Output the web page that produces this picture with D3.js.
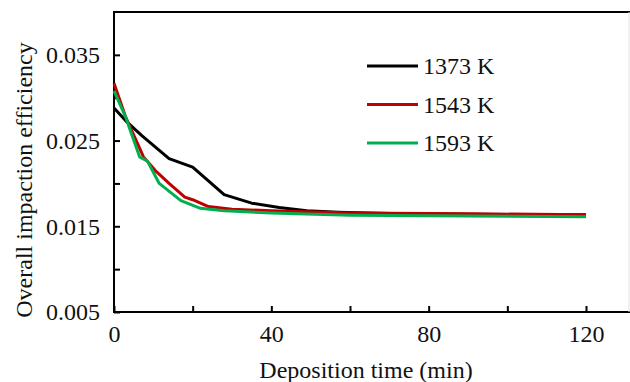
<!DOCTYPE html>
<html>
<head>
<meta charset="utf-8">
<script src="https://cdn.jsdelivr.net/npm/d3@7"></script>
<style>
	body { margin: 0; background: #fff; }
	svg text { font-family: "Liberation Serif", "Times New Roman", serif; fill: #111; }
</style>
</head>
<body>
<div id="chart"></div>
<script>
// data
const seriesNames = ["1373 K", "1543 K", "1593 K"];
const seriesColors = ["#000000", "#c00000", "#00b050"];

const time1373 = [0, 3, 7, 14, 20, 28, 35, 42, 49, 57, 70, 90, 120];
const eff1373 = [0.0288, 0.0273, 0.0256, 0.0229, 0.0219, 0.0187, 0.0177, 0.0172, 0.0168, 0.01665, 0.0165, 0.0164, 0.01635];

const time1543 = [0, 3, 7.5, 10.5, 14, 18, 20, 24, 30, 40, 60, 90, 120];
const eff1543 = [0.0317, 0.0277, 0.0231, 0.0215, 0.0200, 0.0184, 0.0181, 0.0173, 0.0170, 0.0168, 0.01655, 0.01645, 0.01636];

const time1593 = [0, 3, 6.5, 8.5, 11.5, 17, 22, 28, 40, 60, 90, 120];
const eff1593 = [0.0308, 0.0277, 0.0231, 0.0226, 0.0200, 0.0180, 0.0171, 0.0168, 0.01655, 0.0163, 0.0162, 0.0161];

const xTicks = [0, 20, 40, 60, 80, 100, 120];
const xTickLabels = [0, 40, 80, 120];
const yTicks = [0.005, 0.01, 0.015, 0.02, 0.025, 0.03, 0.035];
const yTickLabels = [0.005, 0.015, 0.025, 0.035];

const series = [
	{name: seriesNames[0], color: seriesColors[0], t: time1373, v: eff1373},
	{name: seriesNames[1], color: seriesColors[1], t: time1543, v: eff1543},
	{name: seriesNames[2], color: seriesColors[2], t: time1593, v: eff1593}
];

const W = 630, H = 382;
const margin = {top: 12, left: 114, bottom: 70};
const plotBottom = H - margin.bottom;

const svg = d3.select("#chart").append("svg")
	.attr("width", W)
	.attr("height", H);

const x = d3.scaleLinear().domain([0, 120]).range([margin.left, 586]);
const y = d3.scaleLinear().domain([0.005, 0.04]).range([plotBottom, margin.top]);

// X axis (ticks inside)
const xAxis = d3.axisBottom(x)
	.tickValues(xTicks)
	.tickSize(-6)
	.tickSizeOuter(0)
	.tickFormat(d => xTickLabels.includes(d) ? d3.format("d")(d) : "");
const gx = svg.append("g")
	.attr("transform", "translate(0," + plotBottom + ")")
	.call(xAxis);
gx.select(".domain").remove();
gx.selectAll(".tick line").attr("stroke", "#000").attr("stroke-width", 2);
gx.selectAll(".tick text")
	.attr("y", 30)
	.attr("dy", 0)
	.style("font-size", "24px");

// Y axis (ticks inside)
const yAxis = d3.axisLeft(y)
	.tickValues(yTicks)
	.tickSize(-6)
	.tickSizeOuter(0)
	.tickFormat(d => yTickLabels.some(v => Math.abs(v - d) < 1e-9) ? d3.format(".3f")(d) : "");
const gy = svg.append("g")
	.attr("transform", "translate(" + margin.left + ",0)")
	.call(yAxis);
gy.select(".domain").remove();
gy.selectAll(".tick line").attr("stroke", "#000").attr("stroke-width", 2);
gy.selectAll(".tick text")
	.attr("x", -14)
	.attr("dy", "0.33em")
	.style("font-size", "24px");

// frame: left, top, bottom (right edge faint, cut off)
svg.append("path")
	.attr("d", "M" + W + "," + margin.top + "H" + margin.left + "V" + plotBottom + "H" + W)
	.attr("fill", "none")
	.attr("stroke", "#000")
	.attr("stroke-width", 2);
svg.append("line")
	.attr("x1", 629).attr("x2", 629)
	.attr("y1", margin.top).attr("y2", plotBottom)
	.attr("stroke", "#e4e4e4")
	.attr("stroke-width", 1);

// lines
const line = d3.line()
	.x(d => x(d[0]))
	.y(d => y(d[1]));
series.forEach(s => {
	svg.append("path")
		.datum(d3.zip(s.t, s.v))
		.attr("d", line)
		.attr("fill", "none")
		.attr("stroke", s.color)
		.attr("stroke-width", 3)
		.attr("stroke-linejoin", "round");
});

// legend
const legend = svg.append("g").attr("transform", "translate(367,66)");
const item = legend.selectAll("g")
	.data(series)
	.enter()
	.append("g")
	.attr("transform", (d, i) => "translate(0," + (i * 38.5) + ")");
item.append("line")
	.attr("x1", 0).attr("x2", 51)
	.attr("stroke", d => d.color)
	.attr("stroke-width", 3);
item.append("text")
	.attr("x", 56)
	.attr("y", 8)
	.style("font-size", "24px")
	.text(d => d.name);

// axis titles
svg.append("text")
	.attr("x", (margin.left + 630) / 2 - 6)
	.attr("y", 378)
	.attr("text-anchor", "middle")
	.style("font-size", "24px")
	.text("Deposition time (min)");
svg.append("text")
	.attr("transform", "translate(32,180) rotate(-90)")
	.attr("text-anchor", "middle")
	.style("font-size", "24px")
	.text("Overall impaction efficiency");
</script>
</body>
</html>
